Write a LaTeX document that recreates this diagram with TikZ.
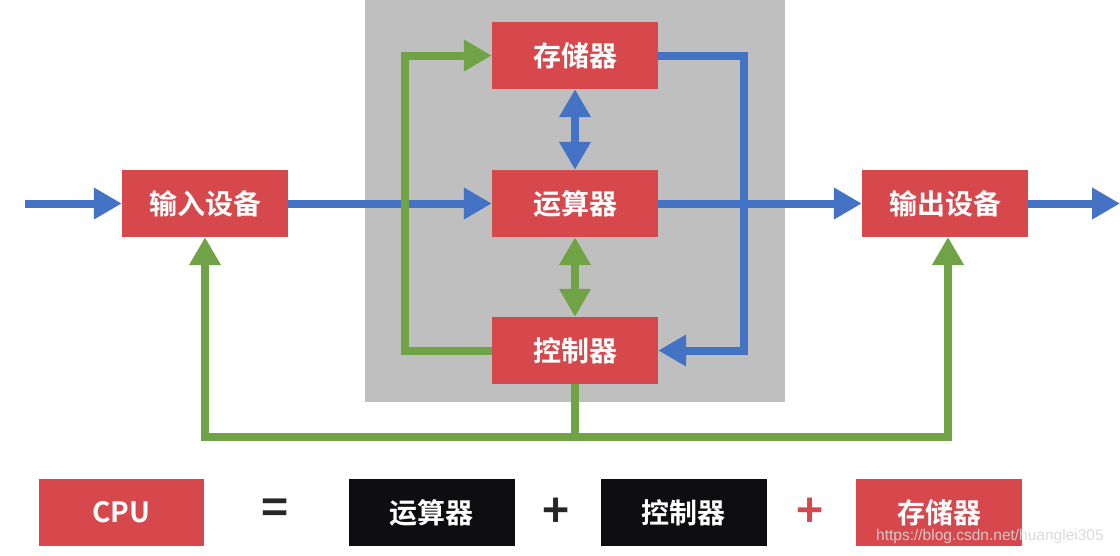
\documentclass[tikz,border=0pt]{standalone}
\usepackage{fontspec}
\setmainfont{Noto Sans CJK SC}[BoldFont={Noto Sans CJK SC Bold}]
\newfontfamily\wmfont{Liberation Sans}
\usetikzlibrary{arrows.meta}
\definecolor{boxred}{RGB}{214,72,76}
\definecolor{lblue}{RGB}{68,114,196}
\definecolor{lgreen}{RGB}{112,162,70}
\definecolor{panel}{RGB}{191,191,191}
\definecolor{boxblack}{RGB}{14,14,16}
\definecolor{symdark}{RGB}{38,38,38}
\definecolor{wmgray}{RGB}{215,215,215}
\begin{document}
\begin{tikzpicture}[x=1pt,y=-1pt,
  unit/.style={minimum width=166pt,minimum height=67pt,inner sep=0pt,
    text=white,font=\bfseries\fontsize{28}{28}\selectfont},
  redbox/.style={unit,fill=boxred},
  blackbox/.style={unit,fill=boxblack},
  conn/.style={line width=8pt,line join=miter},
  bluec/.style={conn,draw=lblue},
  greenc/.style={conn,draw=lgreen},
  tip/.style={-{Triangle[length=28pt,width=30pt]}},
  dtip/.style={{Triangle[length=28pt,width=30pt]}-{Triangle[length=28pt,width=30pt]}},
  sym/.style={inner sep=0pt,font=\bfseries\fontsize{46}{46}\selectfont}
]
\useasboundingbox (0,0) rectangle (1120,555);
\fill[panel] (365,0) rectangle (785,402);

\node[redbox] (mem) at (575,55.5) {存储器};
\node[redbox] (alu) at (575,203.5) {运算器};
\node[redbox] (ctl) at (575,350.5) {控制器};
\node[redbox] (in) at (205,203.5) {输入设备};
\node[redbox] (out) at (945,203.5) {输出设备};

\coordinate (src) at (25,203.5);
\coordinate (snk) at (1120,203.5);
\coordinate (bl) at (744,55.5);
\coordinate (gl) at (405,55.5);
\coordinate (bus) at (575,437);
\coordinate (outin) at (948,237);

% blue
\draw[bluec,tip] (src) -- (in.west);
\draw[bluec,tip] (in.east) -- (alu.west);
\draw[bluec,tip] (mem.east) -- (bl) |- (ctl.east);
\draw[bluec,tip] (alu.east) -- (out.west);
\draw[bluec,tip] (out.east) -- (snk);
\draw[bluec,dtip] (mem.south) -- (alu.north);
% green
\draw[greenc,dtip] (alu.south) -- (ctl.north);
\draw[greenc,tip] (ctl.west) -| (gl) -- (mem.west);
\draw[greenc] (ctl.south) -- (bus);
\draw[greenc,tip] (bus) -| (in.south);
\draw[greenc,tip] (bus) -| (outin);

% bottom equation
\node[redbox,minimum width=165pt] (cpu) at (121.5,512.5) {CPU};
\node[sym,text=symdark] (eq) at (275,512) {=};
\node[blackbox] (b1) at (431.5,512.5) {运算器};
\node[sym,text=symdark] (p1) at (556,513) {+};
\node[blackbox] (b2) at (683.5,512.5) {控制器};
\node[sym,text=boxred] (p2) at (810,513) {+};
\node[redbox] (b3) at (939,512.5) {存储器};

\node[anchor=west,inner sep=0pt,text=wmgray,opacity=0.9,font=\wmfont\fontsize{15.5}{15.5}\selectfont] (wm) at (876,536) {https://blog.csdn.net/huanglei305};
\end{tikzpicture}
\end{document}
